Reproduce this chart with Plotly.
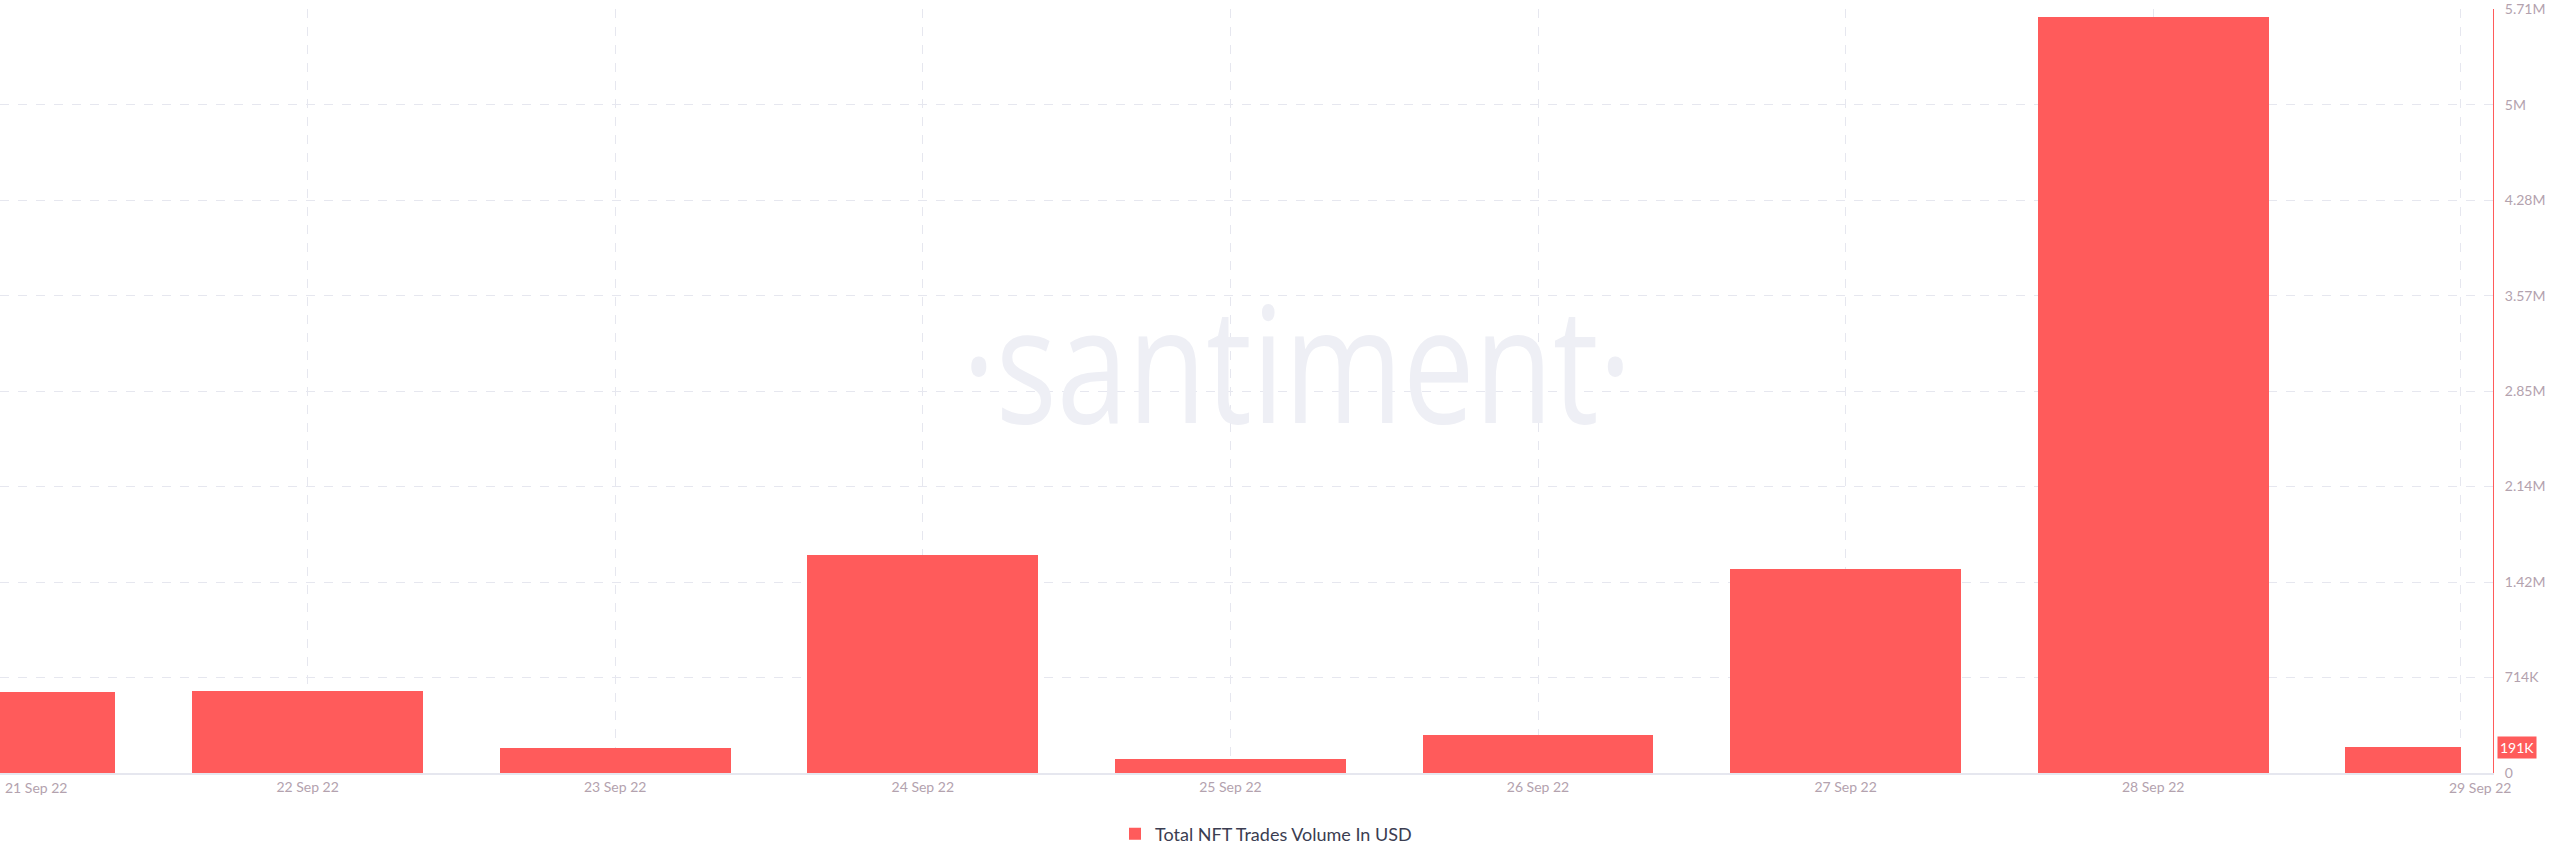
import plotly.graph_objects as go
import pandas as pd

# ---------------- data ----------------
dates = ["2022-09-21", "2022-09-22", "2022-09-23", "2022-09-24", "2022-09-25",
         "2022-09-26", "2022-09-27", "2022-09-28", "2022-09-29"]
date_labels = ["21 Sep 22", "22 Sep 22", "23 Sep 22", "24 Sep 22", "25 Sep 22",
               "26 Sep 22", "27 Sep 22", "28 Sep 22", "29 Sep 22"]
volume_usd = [603000, 611000, 190000, 1629000, 105000, 286000, 1522000, 5652000, 191000]
y_tick_labels = ["0", "714K", "1.42M", "2.14M", "2.85M", "3.57M", "4.28M", "5M", "5.71M"]
y_max = 5.71e6
series_name = "Total NFT Trades Volume In USD"
watermark = "\u00b7santiment\u00b7"

# ---------------- layout constants ----------------
W, H = 2560, 867
M_L, M_R, M_T, M_B = 0, 67, 9, 94
plot_w = W - M_L - M_R
plot_h = H - M_T - M_B
day_px = 307.6
day_ms = 86400000
bar_w = 0.75 * day_ms

RED = "#ff5b5b"
GRID = "#e6e7ef"
TICK = "#b3a2ae"
FONT = "Lato, 'Open Sans', sans-serif"

n = len(dates)
x_start = pd.Timestamp(dates[0])
x_end = x_start + pd.Timedelta(days=plot_w / day_px)
widths = [bar_w] * (n - 1) + [bar_w / 2]
offsets = [-bar_w / 2] * n

y_tickvals = [y_max * i / (len(y_tick_labels) - 1) for i in range(len(y_tick_labels))]

fig = go.Figure()
fig.add_trace(go.Bar(
    x=dates, y=volume_usd, name=series_name,
    marker=dict(color=RED, line=dict(width=0)),
    width=widths, offset=offsets,
    showlegend=True,
))

x_ticktext = [""] + date_labels[1:-1] + [""]

fig.update_layout(
    width=W, height=H,
    margin=dict(l=M_L, r=M_R, t=M_T, b=M_B, pad=0),
    paper_bgcolor="white", plot_bgcolor="white",
    font=dict(family=FONT, size=14, color=TICK),
    bargap=0,
    showlegend=True,
    legend=dict(
        orientation="h", xref="container", yref="container",
        x=0.5 - 14 / W, xanchor="center", y=(H - 834) / H, yanchor="middle",
        font=dict(family=FONT, size=18, color="#3b3d51"),
        itemwidth=30, itemclick=False, itemdoubleclick=False,
    ),
    xaxis=dict(
        type="date", range=[x_start, x_end], fixedrange=True,
        tickmode="array", tickvals=dates, ticktext=x_ticktext,
        showgrid=True, gridcolor=GRID, gridwidth=1, griddash="9px,9px",
        showline=True, linecolor=GRID, linewidth=2,
        ticks="", tickfont=dict(family=FONT, size=14, color=TICK),
        zeroline=False,
    ),
    yaxis=dict(
        side="right", range=[0, y_max * 1.0002], fixedrange=True,
        tickmode="array", tickvals=y_tickvals, ticktext=y_tick_labels,
        showgrid=True, gridcolor=GRID, gridwidth=1, griddash="9px,9px",
        showline=True, linecolor=RED, linewidth=1,
        ticks="", ticklabelstandoff=8, ticklabeloverflow="allow",
        tickfont=dict(family=FONT, size=14, color=TICK),
        zeroline=False,
    ),
)

# watermark
fig.add_annotation(
    text=watermark, xref="paper", yref="paper",
    x=1297 / plot_w, y=(M_T + plot_h - 360) / plot_h,
    xanchor="center", yanchor="middle", showarrow=False,
    font=dict(family="'Open Sans', sans-serif", size=162, color="#eeeff5"),
)

# first / last date labels (kept inside the chart)
fig.add_annotation(
    text=date_labels[0], x=dates[0], xref="x", y=0, yref="paper",
    xanchor="left", yanchor="middle", yshift=-14, xshift=3, showarrow=False,
    font=dict(family=FONT, size=14, color=TICK),
)
fig.add_annotation(
    text=date_labels[-1], x=dates[-1], xref="x", y=0, yref="paper",
    xanchor="left", yanchor="middle", yshift=-14, xshift=-14, showarrow=False,
    font=dict(family=FONT, size=14, color=TICK),
)

# last value badge
last_v = volume_usd[-1]
fig.add_annotation(
    text=f"{last_v / 1000:.0f}K", xref="paper", x=1, y=last_v, yref="y",
    xanchor="left", yanchor="middle", xshift=4, showarrow=False,
    bgcolor=RED, borderpad=2,
    font=dict(family=FONT, size=14, color="white"),
)

post = """
document.body.style.margin='0';
var gd=document.getElementById('{plot_id}');
function squeeze(){
  gd.querySelectorAll('text.annotation-text').forEach(function(t){
    if(t.textContent.indexOf('santiment')>=0){
      t.style.transformBox='fill-box';
      t.style.transformOrigin='center';
      t.style.transform='scaleX(0.79)';
    }
  });
}
squeeze();
gd.on('plotly_afterplot', squeeze);
"""

fig.write_html("out.html", config={"displayModeBar": False}, post_script=post)
